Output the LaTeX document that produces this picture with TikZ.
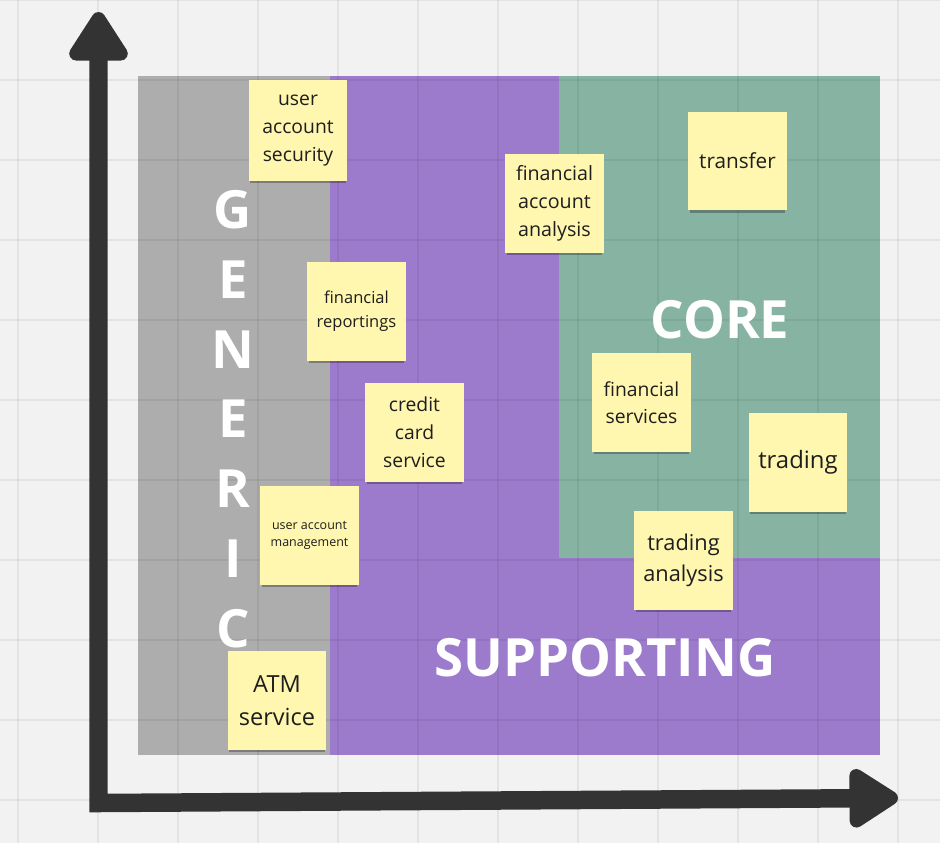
\documentclass[tikz,border=0pt]{standalone}
\usepackage{fontspec}
\setmainfont{Open Sans}
\usetikzlibrary{arrows.meta,shadows}
\definecolor{paper}{HTML}{F2F2F2}
\definecolor{genericgray}{HTML}{ADADAD}
\definecolor{supportpurple}{HTML}{9C7BCD}
\definecolor{coregreen}{HTML}{86B3A2}
\definecolor{noteyellow}{HTML}{FFF6AF}
\definecolor{axisdark}{HTML}{333333}
\definecolor{ink}{HTML}{1E1E1E}
\tikzset{
  region/.style ={draw=none},
  gridln/.style ={black, opacity=0.06, line width=1.2pt},
  axis/.style   ={{Triangle[length=1.1cm, width=1.32cm, round]}-{Triangle[length=1.1cm, width=1.32cm, round]},
                  line width=0.37cm, axisdark, line join=miter},
  sticky/.style ={fill=noteyellow, minimum width=1.98cm, minimum height=1.98cm,
                  inner sep=1pt, align=center, text=ink,
                  drop shadow={shadow xshift=0pt, shadow yshift=-2.6pt,
                  shadow scale=0.96, opacity=0.28, fill=black}},
  bigtxt/.style ={font=\fontsize{30}{40}\selectfont\bfseries, text=white, align=center},
}
\begin{document}
\begin{tikzpicture}[x=0.02cm, y=-0.02cm]
  \useasboundingbox (0,0) rectangle (940,843);
  \fill[paper] (0,0) rectangle (940,843);
  % quadrants
  \fill[region, genericgray] (138,76) rectangle (330,755);
  \fill[region, supportpurple] (330,76) rectangle (880,755);
  \fill[region, coregreen] (559,76) rectangle (880,558);
  % board grid
  \foreach \gx in {18,98,...,898}
    \draw[gridln] (\gx,0) -- (\gx,843);
  \foreach \gy in {0,80,...,800}
    \draw[gridln] (0,\gy) -- (940,\gy);
  % axes
  \coordinate (orig) at (98.5,803);
  \coordinate (ytip) at (98.5,12);
  \coordinate (xtip) at (898,798);
  \draw[axis] (ytip) -- (orig) -- (xtip);
  % domain labels
  \node[bigtxt, font=\fontsize{30}{39.7}\selectfont\bfseries] (generic) at (233,419)
    {G\\E\\N\\E\\R\\I\\C};
  \node[bigtxt] (core) at (720,320) {CORE};
  \node[bigtxt] (supporting) at (605,658) {SUPPORTING};
  % sticky notes
  \node[sticky, minimum height=2.02cm, font=\fontsize{11}{15.9}\selectfont] (uasec) at (298,130.5)
    {user\\account\\security};
  \node[sticky, font=\fontsize{11.2}{15.9}\selectfont] (finacc) at (554.5,203.5)
    {financial\\account\\analysis};
  \node[sticky, font=\fontsize{11.8}{16}\selectfont] (transfer) at (737.5,161) {transfer};
  \node[sticky, font=\fontsize{9.4}{13.6}\selectfont] (finrep) at (356.5,311.5)
    {financial\\reportings};
  \node[sticky, font=\fontsize{11}{15.9}\selectfont] (ccard) at (414.5,432.5)
    {credit\\card\\service};
  \node[sticky, font=\fontsize{11}{15.6}\selectfont] (finserv) at (641.5,402.5)
    {financial\\services};
  \node[sticky, font=\fontsize{13.6}{18}\selectfont] (trading) at (798,462.5) {trading};
  \node[sticky, font=\fontsize{7.1}{9.6}\selectfont] (uamgmt) at (309.5,535)
    {user account\\management};
  \node[sticky, font=\fontsize{12.4}{17.6}\selectfont] (tranal) at (683.5,560.5)
    {trading\\analysis};
  \node[sticky, font=\fontsize{13.4}{18.7}\selectfont] (atm) at (277,700.5)
    {ATM\\service};
\end{tikzpicture}
\end{document}
